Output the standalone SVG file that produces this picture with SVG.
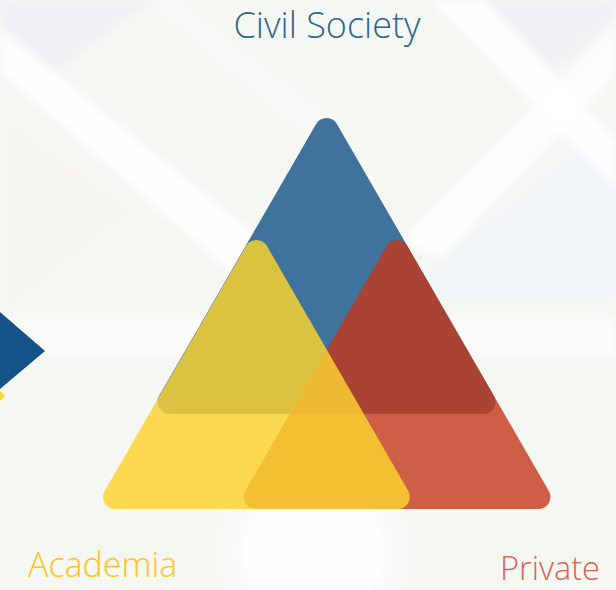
<svg xmlns="http://www.w3.org/2000/svg" width="616" height="590" viewBox="0 0 616 590">
  <defs>
    <filter id="soft" x="-20%" y="-20%" width="140%" height="140%">
      <feGaussianBlur stdDeviation="4"/>
    </filter>
    <filter id="softer" x="-20%" y="-20%" width="140%" height="140%">
      <feGaussianBlur stdDeviation="8"/>
    </filter>
    <style>
      .lbl { font-family: "Open Sans", "Noto Sans", "Liberation Sans", sans-serif; font-weight: 300; }
      .band { fill: #ffffff; }
    </style>
  </defs>

  <!-- background -->
  <g id="background">
    <rect x="0" y="0" width="616" height="590" fill="#F5F7F2"/>
    <g filter="url(#soft)">
      <polygon points="0,0 150,0 50,75 0,40" fill="#EEF0F4"/>
      <polygon points="480,0 616,0 616,15 550,72" fill="#EEF0F4"/>
      <polygon points="430,270 616,120 616,300 430,300" fill="#F1F5FA"/>
      <polygon points="0,110 140,210 0,320" fill="#F6F5F2"/>
      <polygon class="band" points="0,28 0,72 230,272 262,240" opacity="0.9"/>
      <polygon class="band" points="150,0 175,0 330,120 310,138" opacity="0.5"/>
      <polygon class="band" points="430,0 485,0 616,140 616,188" opacity="0.9"/>
      <polygon class="band" points="616,25 616,75 440,260 400,240" opacity="0.8"/>
      <rect class="band" x="0" y="318" width="616" height="38" opacity="0.7"/>
    </g>
    <g filter="url(#softer)">
      <circle cx="314" cy="552" r="99" fill="#ffffff" opacity="0.35"/>
      <circle cx="314" cy="552" r="74" fill="#ffffff" opacity="0.9"/>
    </g>
  </g>

  <!-- left arrow fragment -->
  <g id="arrow">
    <polygon points="0,312 45,351 0,389" fill="#155287"/>
    <polygon points="0,391 5,396 0,401" fill="#FDD835"/>
  </g>

  <!-- triangles -->
  <g id="civil-society-triangle">
    <path d="M 336.89 124 L 493.94 396 A 12 12 0 0 1 483.55 414 L 169.45 414 A 12 12 0 0 1 159.06 396 L 316.11 124 A 12 12 0 0 1 336.89 124 Z" fill="#3F729C"/>
  </g>
  <g id="private-triangle">
    <path d="M 407.39 246 L 548.85 491 A 12 12 0 0 1 538.46 509 L 255.54 509 A 12 12 0 0 1 245.15 491 L 386.61 246 A 12 12 0 0 1 407.39 246 Z" fill="#C5371A" fill-opacity="0.8"/>
  </g>
  <g id="academia-triangle">
    <path d="M 266.89 246 L 408.35 491 A 12 12 0 0 1 397.96 509 L 115.04 509 A 12 12 0 0 1 104.65 491 L 246.11 246 A 12 12 0 0 1 266.89 246 Z" fill="#FCD22F" fill-opacity="0.83"/>
  </g>

  <!-- labels -->
  <g id="label-civil-society">
    <text class="lbl" x="327" y="38" font-size="36" fill="#2F6593" text-anchor="middle">Civil Society</text>
  </g>
  <g id="label-academia">
    <text class="lbl" x="28" y="577" font-size="34" fill="#FFC21E">Academia</text>
  </g>
  <g id="label-private">
    <text class="lbl" x="500" y="580" font-size="32.5" fill="#DC6350">Private</text>
  </g>
</svg>
